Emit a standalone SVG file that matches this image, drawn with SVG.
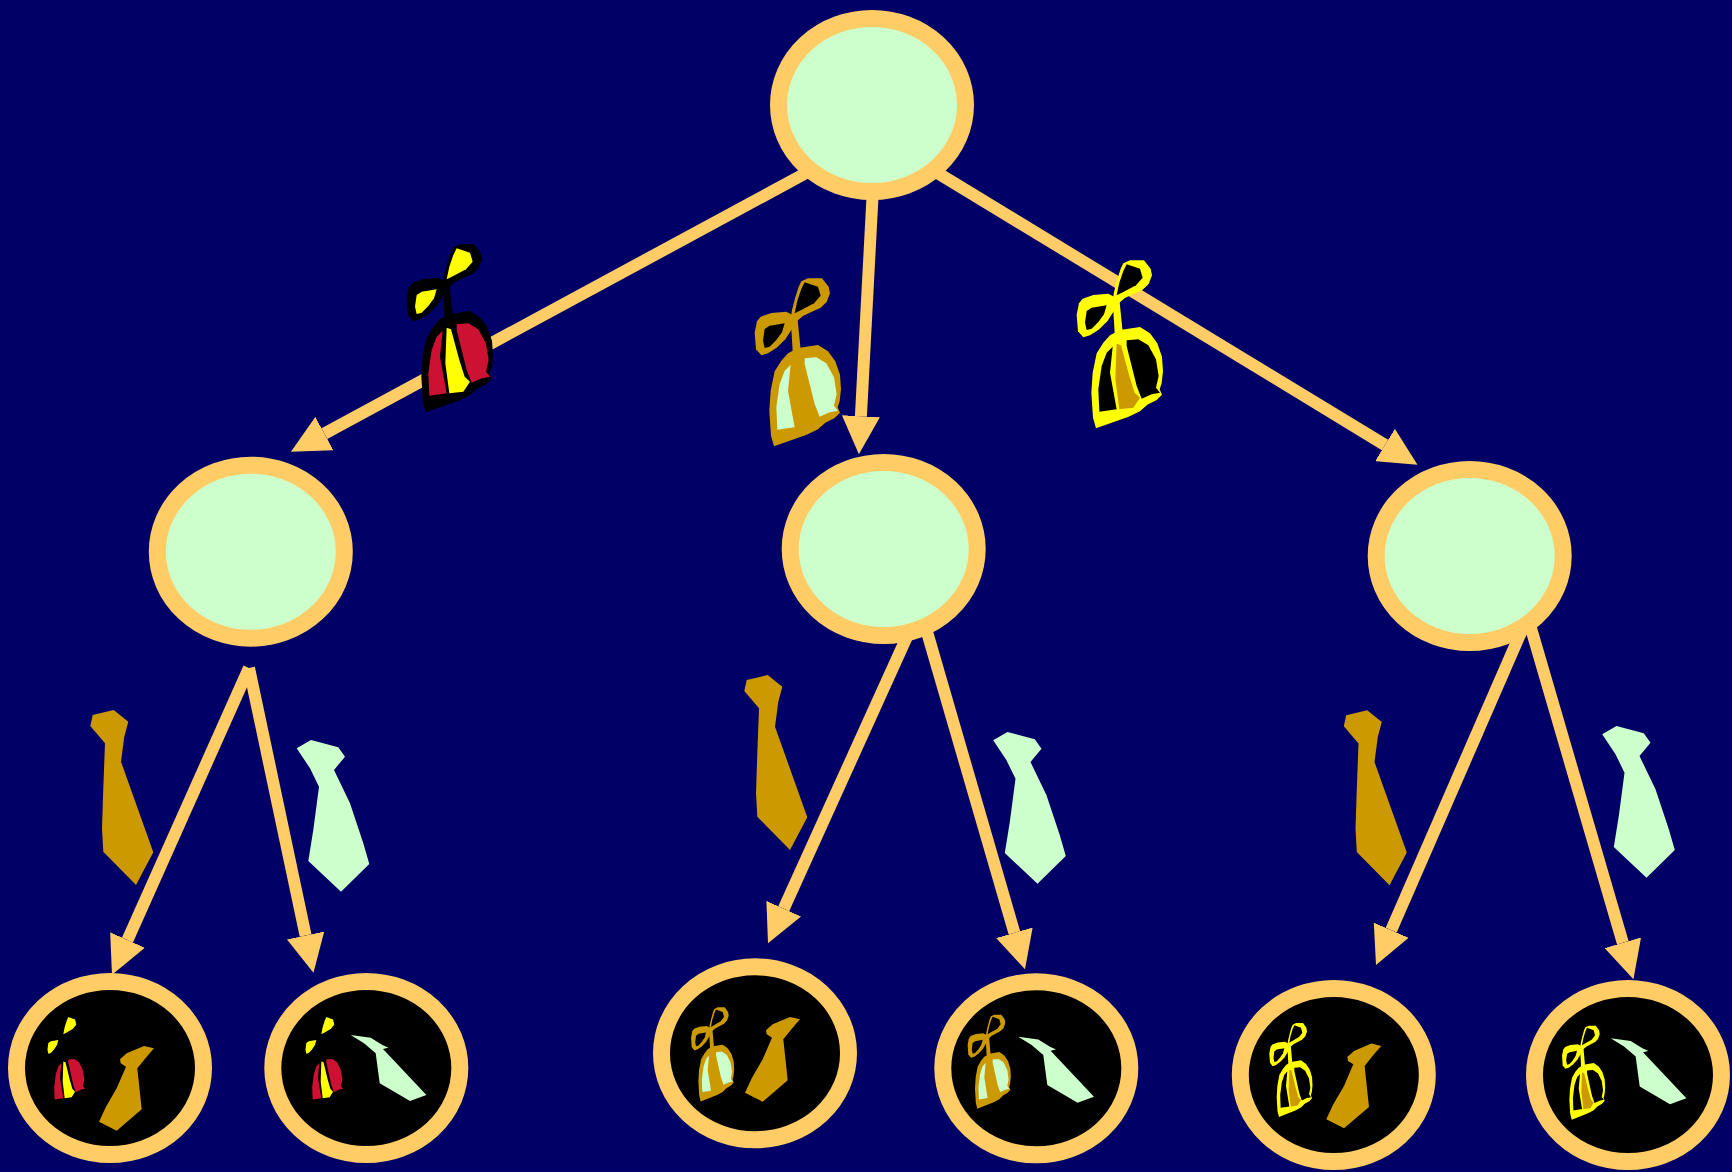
<svg xmlns="http://www.w3.org/2000/svg" xmlns:xlink="http://www.w3.org/1999/xlink" width="1732" height="1172" viewBox="0 0 1732 1172">
<style>
.node ellipse{fill:#CCFFCC;stroke:#FFCC66;stroke-width:17}
.leaf ellipse{fill:#000000;stroke:#FFCC66;stroke-width:17}
.edges line{stroke:#FFCC66;stroke-width:12;marker-end:url(#head)}
.gold{fill:#CC9900}
.mint{fill:#CCFFCC}
</style>
<defs>
  <marker id="head" viewBox="0 0 38 38" refX="0" refY="19" markerWidth="38" markerHeight="38" markerUnits="userSpaceOnUse" orient="auto">
    <path d="M0,0 L38,19 L0,38 Z" fill="#FFCC66"/>
  </marker>
  <!-- bow-tied bag: outline, lobe fills, bell panels, centre stripe -->
  <g id="bag-o">
    <polygon points="190,52 210,43 252,43 272,68 276,88 266,114 248,131 220,144 195,156 178,170 158,166 162,138 172,100 182,68"/>
    <polygon points="68,158 100,147 145,143 168,155 162,195 142,226 116,251 90,268 70,274 54,256 50,206 57,172"/>
    <polygon points="158,160 178,158 188,258 164,262"/>
    <polygon points="150,268 180,252 240,243 270,262 292,292 306,332 309,376 305,412 299,430 306,446 290,462 262,476 240,496 206,512 108,547 99,515 94,440 98,380 110,322 130,290"/>
  </g>
  <g id="bag-l">
    <polygon points="200,55 240,68 248,95 228,118 190,138 170,148 178,110 190,75"/>
    <polygon points="80,195 95,185 140,178 132,205 115,228 95,248 80,252 75,230"/>
  </g>
  <g id="bag-p">
    <polygon points="158,302 150,380 170,490 118,497 115,430 125,360 140,320"/>
    <polygon points="200,283 235,280 265,298 288,340 296,390 288,425 300,440 275,445 245,458 230,420 215,360 200,300"/>
  </g>
  <g id="bag-s">
    <polygon points="170,293 183,298 208,390 224,440 240,455 220,485 178,490 166,400"/>
  </g>
  <!-- neckties -->
  <polygon id="tie-big" points="2.7,5 23.7,0 38.3,11.7 34.3,26.7 31,51.7 63.3,142.3 46,175 13.3,141.7 12,118.3 13.3,78.3 15,33.3 0.3,16"/>
  <polygon id="tie-big2" points="0.7,9.3 15,1 42.3,8.3 49,17.7 38,31 54,64.3 67.3,104.3 73.3,125 45,152.7 12.3,122 17.3,91 23,47.7 14,29.3"/>
  <polygon id="tie-sm" points="3.3,-71.4 10,-77.4 27.3,-84.7 37.3,-82.4 30,-74 20.6,-62.4 25,-21.4 0,0 -17.7,-9 -10.7,-24 0,-42.4 9.3,-64 4,-67.4"/>
  <polygon id="tie-sm2" points="0,0 20,2.7 31.7,10 37.7,12.7 32.3,14 75.7,60 59.3,66 29,48.3 25,18.3 13.3,8.3"/>
</defs>

<rect width="1732" height="1172" fill="#000066"/>

<g id="connectors" class="edges">
  <line x1="806" y1="173" x2="324.4" y2="433.6"/>
  <line x1="872.6" y1="195" x2="860.9" y2="416.2"/>
  <line x1="936" y1="172" x2="1385" y2="445"/>
  <line x1="249" y1="668" x2="127.5" y2="940"/>
  <line x1="249" y1="668" x2="305.6" y2="935.5"/>
  <line x1="910" y1="630" x2="783.7" y2="908.7"/>
  <line x1="925" y1="625" x2="1014.4" y2="932.8"/>
  <line x1="1522" y1="630" x2="1391.2" y2="930.2"/>
  <line x1="1528" y1="618" x2="1622.8" y2="942.8"/>
</g>

<g id="root" class="node"><ellipse cx="872" cy="105" rx="93.5" ry="86.5"/></g>
<g id="mid-left" class="node"><ellipse cx="250.8" cy="551.7" rx="93.5" ry="86.5"/></g>
<g id="mid-centre" class="node"><ellipse cx="883.7" cy="549" rx="93.5" ry="86.5"/></g>
<g id="mid-right" class="node"><ellipse cx="1469.7" cy="556" rx="93.5" ry="86.5"/></g>

<!-- bags on the upper edges -->
<g id="bag-red" transform="translate(390,230) scale(0.3333)">
  <use xlink:href="#bag-o" fill="#000000"/><use xlink:href="#bag-l" fill="#FFFF00"/>
  <use xlink:href="#bag-p" fill="#CC1133"/><use xlink:href="#bag-s" fill="#FFFF00"/>
</g>
<g id="bag-gold" transform="translate(738,264) scale(0.3333)">
  <use xlink:href="#bag-o" fill="#CC9900"/><use xlink:href="#bag-l" fill="#000000"/>
  <use xlink:href="#bag-p" fill="#CCFFCC"/><use xlink:href="#bag-s" fill="#CC9900"/>
</g>
<g id="bag-yellow" transform="translate(1060,246) scale(0.3333)">
  <use xlink:href="#bag-o" fill="#FFFF00"/><use xlink:href="#bag-l" fill="#000000"/>
  <use xlink:href="#bag-p" fill="#000000"/><use xlink:href="#bag-s" fill="#CC9900"/>
</g>

<!-- ties on the lower edges -->
<g id="ties">
  <use xlink:href="#tie-big" class="gold" transform="translate(90,710)"/>
  <use xlink:href="#tie-big2" class="mint" transform="translate(296,739)"/>
  <use xlink:href="#tie-big" class="gold" transform="translate(744,675)"/>
  <use xlink:href="#tie-big2" class="mint" transform="translate(992.5,731)"/>
  <use xlink:href="#tie-big" class="gold" transform="translate(1343.5,710.3)"/>
  <use xlink:href="#tie-big2" class="mint" transform="translate(1601.5,725)"/>
</g>

<g id="leaf-1" class="leaf">
  <ellipse cx="110" cy="1068" rx="93.5" ry="86.5"/>
  <g transform="translate(35,1006.7) scale(0.1667,0.1867)">
    <use xlink:href="#bag-o" fill="#000000"/><use xlink:href="#bag-l" fill="#FFFF00"/>
    <use xlink:href="#bag-p" fill="#CC1133"/><use xlink:href="#bag-s" fill="#FFFF00"/>
  </g>
  <use xlink:href="#tie-sm" class="gold" transform="translate(116.7,1130.7)"/>
</g>
<g id="leaf-2" class="leaf">
  <ellipse cx="366.3" cy="1068" rx="93.5" ry="86.5"/>
  <g transform="translate(293,1006.7) scale(0.1667,0.1867)">
    <use xlink:href="#bag-o" fill="#000000"/><use xlink:href="#bag-l" fill="#FFFF00"/>
    <use xlink:href="#bag-p" fill="#CC1133"/><use xlink:href="#bag-s" fill="#FFFF00"/>
  </g>
  <use xlink:href="#tie-sm2" class="mint" transform="translate(350.7,1035)"/>
</g>
<g id="leaf-3" class="leaf">
  <ellipse cx="755" cy="1053.3" rx="93.5" ry="86.5"/>
  <g transform="translate(682.7,999.3) scale(0.1667,0.1867)">
    <use xlink:href="#bag-o" fill="#CC9900"/><use xlink:href="#bag-l" fill="#000000"/>
    <use xlink:href="#bag-p" fill="#CCFFCC"/><use xlink:href="#bag-s" fill="#CC9900"/>
  </g>
  <use xlink:href="#tie-sm" class="gold" transform="translate(762.7,1101.7)"/>
</g>
<g id="leaf-4" class="leaf">
  <ellipse cx="1036.3" cy="1068.3" rx="93.5" ry="86.5"/>
  <g transform="translate(959.3,1006.6) scale(0.1667,0.1867)">
    <use xlink:href="#bag-o" fill="#CC9900"/><use xlink:href="#bag-l" fill="#000000"/>
    <use xlink:href="#bag-p" fill="#CCFFCC"/><use xlink:href="#bag-s" fill="#CC9900"/>
  </g>
  <use xlink:href="#tie-sm2" class="mint" transform="translate(1018.3,1036.7)"/>
</g>
<g id="leaf-5" class="leaf">
  <ellipse cx="1333.8" cy="1075" rx="93.5" ry="86.5"/>
  <g transform="translate(1261,1015) scale(0.1667,0.1867)">
    <use xlink:href="#bag-o" fill="#FFFF00"/><use xlink:href="#bag-l" fill="#000000"/>
    <use xlink:href="#bag-p" fill="#000000"/><use xlink:href="#bag-s" fill="#CC9900"/>
  </g>
  <use xlink:href="#tie-sm" class="gold" transform="translate(1344,1128.3)"/>
</g>
<g id="leaf-6" class="leaf">
  <ellipse cx="1628" cy="1075" rx="93.5" ry="86.5"/>
  <g transform="translate(1553.7,1017.6) scale(0.1667,0.1867)">
    <use xlink:href="#bag-o" fill="#FFFF00"/><use xlink:href="#bag-l" fill="#000000"/>
    <use xlink:href="#bag-p" fill="#000000"/><use xlink:href="#bag-s" fill="#CC9900"/>
  </g>
  <use xlink:href="#tie-sm2" class="mint" transform="translate(1610.7,1038.3)"/>
</g>
</svg>
